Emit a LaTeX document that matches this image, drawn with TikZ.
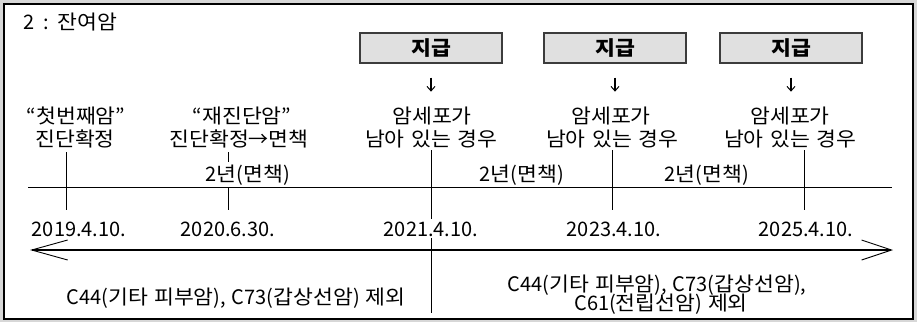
\documentclass[tikz,border=0pt]{standalone}
\usepackage{fontspec}
\setmainfont{Noto Sans CJK KR}[WordSpace=1.3]
\newfontfamily\hangulfont{Noto Sans CJK KR}[FakeStretch=1.08,WordSpace=1.3]
\newcommand{\K}[1]{{\hangulfont #1}}
\usetikzlibrary{arrows.meta}
\definecolor{outergray}{RGB}{215,215,215}
\definecolor{boxgray}{RGB}{224,224,224}
\definecolor{boxline}{RGB}{60,60,60}
\tikzset{
  txt/.style={anchor=base,inner sep=0pt,font=\fontsize{20}{22}\selectfont},
  wtxt/.style={txt,fill=white,inner xsep=1pt,inner ysep=2pt},
  paybox/.style={draw=boxline,line width=1.3pt,fill=boxgray,minimum width=142pt,minimum height=30pt,inner sep=0pt,font=\fontsize{20}{22}\selectfont\bfseries},
  tick/.style={line width=0.8pt},
  downarrow/.style={line width=1.1pt,-{Straight Barb[length=4.5pt,width=8pt,line width=1pt]}},
  timeline/.style={line width=0.8pt},
  bigarrow/.style={line width=1.2pt,{Straight Barb[length=36pt,width=20pt,line width=0.9pt]}-{Straight Barb[length=30pt,width=20pt,line width=0.9pt]}}
}
\begin{document}
\begin{tikzpicture}[x=1pt,y=-1pt]
\useasboundingbox (0,0) rectangle (917,322);
\fill[outergray] (0,0) rectangle (917,322);
\draw[fill=white,line width=1.4pt] (4,4) rectangle (913,319);

% ticks and lines (drawn below the texts)
\coordinate (ta) at (66,152);   \coordinate (ba) at (66,210);
\coordinate (tb) at (228,152);  \coordinate (bb) at (228,210);
\coordinate (tc) at (431,150);  \coordinate (bc) at (431,313);
\coordinate (td) at (612,150);  \coordinate (bd) at (612,210);
\coordinate (te) at (804,150);  \coordinate (be) at (804,210);
\draw[tick] (ta) -- (ba);
\draw[tick] (tb) -- (bb);
\draw[tick] (tc) -- (bc);
\draw[tick] (td) -- (bd);
\draw[tick] (te) -- (be);

\coordinate (hl) at (28,187);  \coordinate (hr) at (892,187);
\draw[timeline] (hl) -- (hr);
\coordinate (al) at (30,250);  \coordinate (ar) at (893,250);
\draw[bigarrow] (al) -- (ar);

% title
\node[txt,anchor=base west] (title) at (23,29) {2\hspace{9pt}:\hspace{9pt}\K{잔여암}};

% pay boxes
\node[paybox] (p1) at (431,48) {\K{지급}};
\node[paybox] (p2) at (615,48) {\K{지급}};
\node[paybox] (p3) at (791,48) {\K{지급}};

% texts above the timeline
\node[txt] (a1) at (76,123) {“\K{첫번째암}”};
\node[txt] (a2) at (75,146) {\K{진단확정}};
\node[txt] (b1) at (242,123) {“\K{재진단암}”};
\node[txt] (b2) at (239,146) {\K{진단확정}→\K{면책}};
\node[txt] (c1) at (432,123) {\K{암세포가}};
\node[txt] (c2) at (431,146) {\K{남아 있는 경우}};
\node[txt] (d1) at (611,123) {\K{암세포가}};
\node[txt] (d2) at (612,146) {\K{남아 있는 경우}};
\node[txt] (e1) at (790,123) {\K{암세포가}};
\node[txt] (e2) at (790,146) {\K{남아 있는 경우}};

\draw[downarrow] (p1.south) ++(0,14) -- ++(0,14);
\draw[downarrow] (p2.south) ++(0,14) -- ++(0,14);
\draw[downarrow] (p3.south) ++(0,14) -- ++(0,14);

% periods
\node[wtxt] (m1) at (248,181) {2\K{년}(\K{면책})};
\node[txt] (m2) at (522,181) {2\K{년}(\K{면책})};
\node[txt] (m3) at (707,181) {2\K{년}(\K{면책})};

% dates
\node[txt] (d2019) at (79,236) {2019.4.10.};
\node[txt] (d2020) at (228,236) {2020.6.30.};
\node[wtxt] (d2021) at (431,236) {2021.4.10.};
\node[txt] (d2023) at (614,236) {2023.4.10.};
\node[txt] (d2025) at (806,236) {2025.4.10.};

% bottom notes
\node[txt] (n1) at (236,304) {C44(\K{기타 피부암}), C73(\K{갑상선암}) \K{제외}};
\node[txt] (n2) at (657,291) {C44(\K{기타 피부암}), C73(\K{갑상선암}),};
\node[txt] (n3) at (661,310) {C61(\K{전립선암}) \K{제외}};
\end{tikzpicture}
\end{document}
